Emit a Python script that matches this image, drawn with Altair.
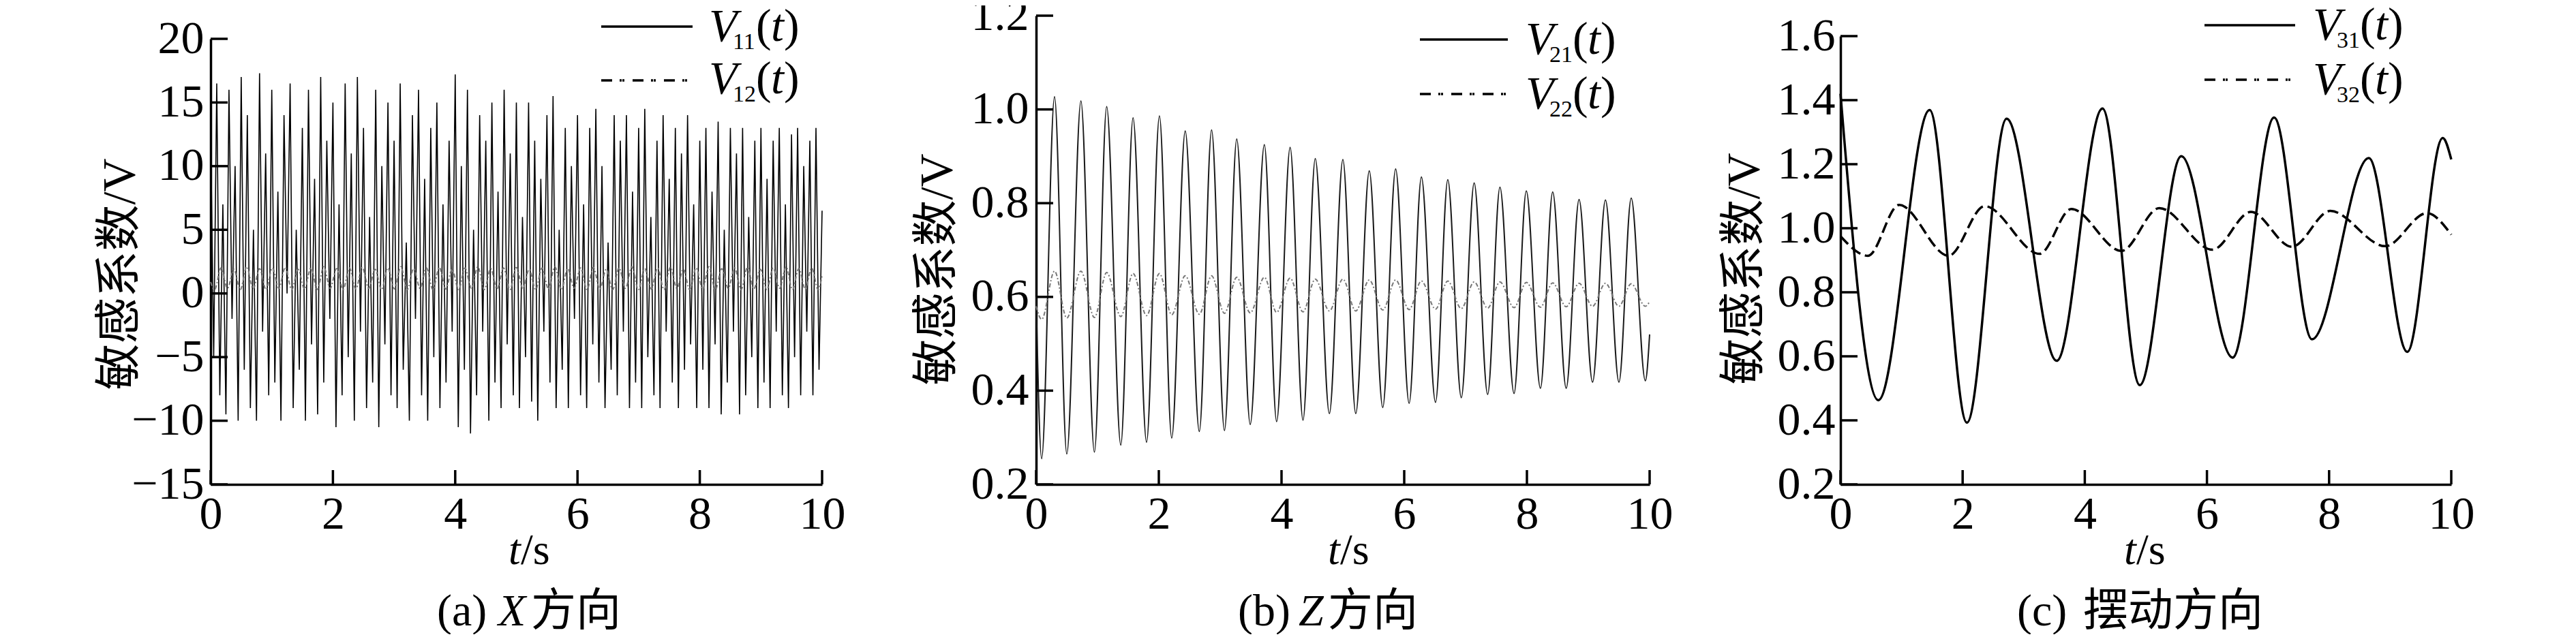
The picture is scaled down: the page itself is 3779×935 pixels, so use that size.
import altair as alt
import pandas as pd

# ---------------- data ----------------
X_TICKS = [0, 2, 4, 6, 8, 10]
Y_TICKS_A = [-15, -10, -5, 0, 5, 10, 15, 20]
Y_TICKS_B = [0.2, 0.4, 0.6, 0.8, 1.0, 1.2]
Y_TICKS_C = [0.2, 0.4, 0.6, 0.8, 1.0, 1.2, 1.4, 1.6]

# (a) X direction: sampling grid 0.05 s
T11 = [round(i * 0.05, 2) for i in range(201)]
V11 = [
    13, -5, 16.5, -8, 7, -9.5, 16, -2, 10, -10, 17, -6, 14, -9, 5, -10, 17.3, -3, 11, -8,
    16, -7, 8, -10, 14, 0, 16.5, -9, 5, -6, 13, -10, 16, -4, 9, -9.5, 17, -7, 12, -2,
    15, -10.5, 7, -8, 16.5, -5, 11, -10, 17, -3, 13, -9, 6, -7, 16, -10.5, 10, -4, 15, -8,
    12, -9, 16.5, -6, 4, -10, 14, -2, 16, -8, 9, -10, 13, -5, 15, -9, 7, -7, 12, -3,
    17.2, -10.5, 10, -6, 16, -11, 5, -8, 14, -3, 12, -10, 15, -7, 8, -9, 16, -4, 11, -8,
    15, -9, 6, -5, 15, -8.5, 12, -10, 9, -3, 14, -7, 15.5, -9, 5, -6, 13, -9, 10, -2,
    14, -8, 7, -9, 13, -4, 14.5, -7, 10, -9, 4, -6, 14, -8, 12, -3, 14, -9, 8, -7,
    13, -9, 14.5, -5, 6, -8, 12, -9, 14, -3, 9, -7, 13, -9, 11, -6, 14, -4, 7, -9,
    12, -6, 13, -9, 8, -4, 13.5, -9.5, 5, -7, 13, -3, 11, -9.5, 13, -8, 6, -5, 12, -9,
    13, -7, 9, -9, 12, -3, 13, -8, 7, -9, 12.5, -5, 13, -8, 10, -3, 12, -8, 13, -6,
    6.5,
]
T12 = [0.0] + [round(0.065 + 0.105 * i, 3) for i in range(95)] + [10.0]
V12 = [0.9,
       0.3, 2.0, 0.4, 1.9, 0.3, 2.1, 0.35, 1.95, 0.3, 2.0, 0.4, 2.05, 0.3, 1.9, 0.35, 2.0, 0.3, 2.1, 0.4, 1.95,
       0.3, 2.0, 0.35, 2.05, 0.4, 1.9, 0.3, 2.0, 0.35, 2.1, 0.3, 1.95, 0.4, 2.0, 0.3, 2.05, 0.35, 1.9, 0.3, 2.0,
       0.4, 2.1, 0.3, 1.95, 0.35, 2.0, 0.3, 2.05, 0.4, 1.9, 0.3, 2.0, 0.35, 2.1, 0.3, 1.95, 0.4, 2.0, 0.3, 2.05,
       0.35, 1.9, 0.3, 2.0, 0.4, 2.1, 0.3, 1.95, 0.35, 2.0, 0.3, 2.05, 0.4, 1.9, 0.3, 2.0, 0.35, 2.1, 0.3, 1.95,
       0.4, 2.0, 0.3, 2.05, 0.35, 1.9, 0.3, 2.0, 0.4, 2.1, 0.3, 1.95, 0.35, 2.0,
       0.3,
       1.4]

# (b) Z direction: extrema times and values
T_B = [0.0, 0.09, 0.30, 0.50, 0.73, 0.95, 1.15, 1.38, 1.58, 1.80, 2.01, 2.21, 2.43, 2.66,
       2.86, 3.07, 3.27, 3.49, 3.72, 3.92, 4.14, 4.35, 4.55, 4.78, 5.00, 5.21, 5.43, 5.65,
       5.86, 6.08, 6.28, 6.51, 6.71, 6.93, 7.14, 7.36, 7.56, 7.79, 7.99, 8.22, 8.42, 8.64,
       8.85, 9.07, 9.28, 9.50, 9.70, 9.93, 10.0]
V21 = [0.60, 0.255, 1.027, 0.265, 1.018, 0.269, 1.006, 0.284, 0.982, 0.290, 0.986, 0.299,
       0.954, 0.313, 0.956, 0.315, 0.937, 0.328, 0.925, 0.334, 0.919, 0.337, 0.895, 0.351,
       0.893, 0.351, 0.869, 0.364, 0.873, 0.373, 0.856, 0.375, 0.850, 0.385, 0.843, 0.392,
       0.834, 0.394, 0.826, 0.405, 0.824, 0.405, 0.808, 0.418, 0.807, 0.418, 0.811, 0.421, 0.52]
V22 = [0.58, 0.552, 0.655, 0.555, 0.655, 0.556, 0.652, 0.558, 0.650, 0.560, 0.650, 0.562,
       0.645, 0.563, 0.645, 0.565, 0.642, 0.566, 0.642, 0.567, 0.640, 0.568, 0.638, 0.570,
       0.638, 0.570, 0.636, 0.572, 0.636, 0.573, 0.634, 0.574, 0.634, 0.575, 0.632, 0.576,
       0.632, 0.577, 0.631, 0.578, 0.630, 0.579, 0.629, 0.580, 0.629, 0.580, 0.628, 0.580, 0.590]

# (c) swing direction
T31 = [0.0, 0.62, 1.46, 2.07, 2.72, 3.54, 4.29, 4.90, 5.58, 6.42, 7.10, 7.72, 8.65, 9.28, 9.86, 10.0]
V31 = [1.42, 0.463, 1.369, 0.393, 1.342, 0.586, 1.374, 0.510, 1.225, 0.596, 1.346, 0.653, 1.219, 0.614, 1.282, 1.215]
T32 = [0.0, 0.45, 0.96, 1.77, 2.36, 3.26, 3.78, 4.60, 5.22, 6.09, 6.72, 7.39, 8.02, 8.92, 9.60, 10.0]
V32 = [0.975, 0.914, 1.073, 0.914, 1.069, 0.920, 1.060, 0.929, 1.063, 0.933, 1.051, 0.942, 1.054, 0.944, 1.047, 0.980]

assert len(T11) == len(V11) and len(T12) == len(V12)
assert len(T_B) == len(V21) == len(V22)
assert len(T31) == len(V31) and len(T32) == len(V32)

# ---------------- styling ----------------
SERIF = "Liberation Serif, Times New Roman, Tinos, DejaVu Serif, serif"
MIXED = "Liberation Serif, Times New Roman, Tinos, Noto Sans CJK SC, serif"
FS = 68
H = 688
AXW = 3.5
DASHDOT = [16, 11, 3, 1, 3, 12]


def text_layer(s, x, y, size=FS, style="normal", font=SERIF, align="left"):
    return alt.Chart(pd.DataFrame({"s": [s]})).mark_text(
        align=align, baseline="alphabetic", font=font, fontSize=size,
        fontStyle=style, color="black"
    ).encode(x=alt.value(x), y=alt.value(y), text="s:N")


def legend_rule(x1, x2, y, dash=None):
    kw = dict(color="black", strokeWidth=3.5)
    if dash:
        kw["strokeDash"] = dash
    return alt.Chart(pd.DataFrame({"k": [0]})).mark_rule(**kw).encode(
        x=alt.value(x1), x2=alt.value(x2), y=alt.value(y))


def legend_label(x0, base, sub):
    return [
        text_layer("V", x0 - 2, base, style="italic"),
        text_layer(sub, x0 + 33, base + 12, size=34),
        text_layer("(", x0 + 67, base),
        text_layer("t", x0 + 89, base, style="italic"),
        text_layer(")", x0 + 108, base),
    ]


def make_panel(p):
    xs = alt.Scale(domain=[0, 10], range=[0, p["xr"]], nice=False, zero=False)
    ys = alt.Scale(domain=p["ydom"], range=[H, p["ytop"]], nice=False, zero=False)
    xaxis = alt.Axis(values=X_TICKS, format="d", title=None, ticks=False, tickSize=0,
                     grid=False, domainColor="black", domainWidth=AXW,
                     labelFont=SERIF, labelFontSize=FS, labelColor="black",
                     labelPadding=64, labelBaseline="alphabetic",
                     labelOverlap=False, labelFlush=False)
    yaxis = alt.Axis(values=p["yticks"], format=p["fmt"], title="敏感系数/V",
                     ticks=False, tickSize=0, grid=False, domainColor="black",
                     domainWidth=AXW, labelFont=SERIF, labelFontSize=FS,
                     labelColor="black", labelPadding=p["lp"], labelBaseline="middle",
                     labelOverlap=False, labelFlush=False,
                     titleFont=MIXED, titleFontSize=68, titleFontWeight="normal",
                     titleColor="black", titleAngle=270, titleBaseline="bottom",
                     titleAlign="center", titleX=p["tx"], titleY=p["ty"])
    layers = []
    for (tt, vv, style) in p["series"]:
        df = pd.DataFrame({"t": tt, "v": vv})
        layers.append(alt.Chart(df).mark_line(**style).encode(
            x=alt.X("t:Q", scale=xs, axis=xaxis),
            y=alt.Y("v:Q", scale=ys, axis=yaxis)))
    layers.append(alt.Chart(pd.DataFrame({"v": p["yticks"]})).mark_rule(
        color="black", strokeWidth=AXW).encode(
        y=alt.Y("v:Q", scale=ys, axis=yaxis), x=alt.value(0), x2=alt.value(25)))
    layers.append(alt.Chart(pd.DataFrame({"t": X_TICKS})).mark_rule(
        color="black", strokeWidth=AXW).encode(
        x=alt.X("t:Q", scale=xs, axis=xaxis), y=alt.value(H), y2=alt.value(H - 21)))
    # legend
    lg = p["legend"]
    layers.append(legend_rule(lg["x1"], lg["x2"], lg["y1"]))
    layers.append(legend_rule(lg["x1"], lg["x2b"], lg["y2"], DASHDOT))
    layers += legend_label(lg["vx"], lg["b1"], lg["subs"][0])
    layers += legend_label(lg["vx"], lg["b2"], lg["subs"][1])
    # x title t/s
    sx = p["tsplit"]
    layers.append(text_layer("t", sx - 18, 805, size=64, style="italic"))
    layers.append(text_layer("/s", sx, 805, size=64))
    # caption
    for (s, x, style) in p["caption"]:
        layers.append(text_layer(s, x, 895, size=66, style=style, font=MIXED))
    return alt.layer(*layers).properties(width=p["w"], height=H)


thin_dd = [6, 3, 2, 3]
panel_a = make_panel(dict(
    w=931, xr=897, ydom=[-15, 20], ytop=34, yticks=Y_TICKS_A, fmt="d", lp=10,
    tx=-99, ty=379,
    series=[(T11, V11, dict(color="#000000", strokeWidth=1.6)),
            (T12, V12, dict(color="#777777", strokeWidth=2, strokeDash=thin_dd,
                            interpolate="monotone"))],
    legend=dict(x1=573, x2=707, x2b=703, y1=16, y2=95, vx=733, b1=37, b2=114,
                subs=["11", "12"]),
    tsplit=455,
    caption=[("(a)", 332, "normal"), ("X", 422, "italic"), ("方向", 470, "normal")],
))
panel_b = make_panel(dict(
    w=900, xr=900, ydom=[0.2, 1.2], ytop=0, yticks=Y_TICKS_B, fmt=".1f", lp=11,
    tx=-111, ty=372,
    series=[(T_B, V21, dict(color="#1a1a1a", strokeWidth=2, interpolate="monotone")),
            (T_B, V22, dict(color="#777777", strokeWidth=2, strokeDash=thin_dd,
                            interpolate="monotone"))],
    legend=dict(x1=563, x2=692, x2b=690, y1=35, y2=115, vx=720, b1=56, b2=136,
                subs=["21", "22"]),
    tsplit=446,
    caption=[("(b)", 296, "normal"), ("Z", 385, "italic"), ("方向", 428, "normal")],
))
panel_c = make_panel(dict(
    w=896, xr=896, ydom=[0.2, 1.6], ytop=30, yticks=Y_TICKS_C, fmt=".1f", lp=8,
    tx=-107, ty=371,
    series=[(T31, V31, dict(color="black", strokeWidth=3.5, interpolate="monotone")),
            (T32, V32, dict(color="black", strokeWidth=3.5, strokeDash=[16, 7],
                            interpolate="monotone"))],
    legend=dict(x1=534, x2=667, x2b=665, y1=14, y2=94, vx=695, b1=35, b2=115,
                subs=["31", "32"]),
    tsplit=434,
    caption=[("(c)", 259, "normal"), ("摆动方向", 356, "normal")],
))

chart = alt.hconcat(panel_a, panel_b, panel_c, spacing=280, bounds="flush").properties(
    padding={"left": 134, "top": -19, "right": 10, "bottom": 0}
).configure_view(stroke=None)

chart.save("out.html", embed_options={"renderer": "svg", "actions": False})
